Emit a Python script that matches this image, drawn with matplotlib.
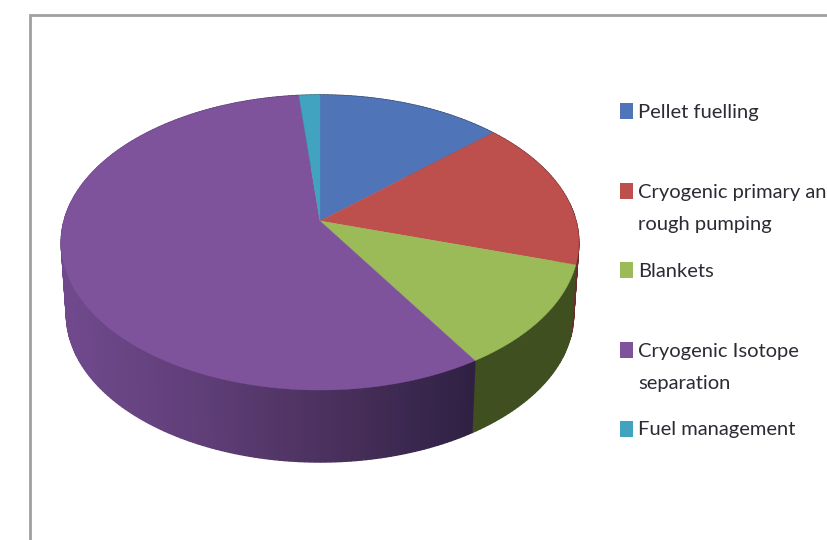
import matplotlib
matplotlib.use("Agg")
import matplotlib.pyplot as plt
import numpy as np

# share of each slice in percent, clockwise from the top
labels = ["Pellet fuelling", "Cryogenic primary and\nrough pumping", "Blankets",
          "Cryogenic Isotope\nseparation", "Fuel management"]
values = [13.3, 16.4, 11.4, 57.4, 1.5]
colors = ["#4f74b8", "#bd504d", "#9bbb59", "#7f539c", "#41a3bf"]

plt.rcParams["font.family"] = ["Lato", "DejaVu Sans"]

# pie geometry in pixels, the slight perspective puts the apex above the ellipse centre
CX, CY = 320, 221
A, B, K = 256, 144.4, 0.1457
DEPTH = 72


def edge(theta, scale=1.0, drop=0):
    # theta is clockwise from the top, in radians
    u = np.sin(theta)
    v = -np.cos(theta)
    w = 1 - K * v
    return CX + scale * A * u / w, CY + drop + B * v / w


def side_colour(x, i):
    if i == 3:
        return np.interp(x, [70, 200, 320, 470], [111, 96, 76, 48]) / 255, \
               np.interp(x, [70, 200, 320, 470], [73, 62, 50, 33]) / 255, \
               np.interp(x, [70, 200, 320, 470], [140, 120, 95, 68]) / 255
    return ["#2c4066", "#6b2d2b", "#3f4f20", "#4a3060", "#245c6c"][i]


fig = plt.figure(figsize=(8.27, 5.40), dpi=100)
ax = fig.add_axes([0, 0, 1, 1])
ax.set_xlim(0, 827)
ax.set_ylim(540, 0)
ax.axis("off")

# frame, runs off the right and bottom of the picture
ax.plot([30, 30, 827], [540, 15, 15], color="#a0a0a0", lw=2.0, solid_joinstyle="miter")

stops = np.radians(np.cumsum([0] + values) * 3.6)

# sides first, the top covers the part at the back
for i in range(len(values)):
    t = np.arange(stops[i], stops[i + 1], np.radians(1.0))
    t = np.append(t, stops[i + 1])
    for a, b in zip(t[:-1], t[1:]):
        x1, y1 = edge(np.array([a, b]))
        x2, y2 = edge(np.array([b, a]), 0.98, DEPTH)
        c = side_colour((x1[0] + x1[1]) / 2, i)
        ax.fill(np.r_[x1, x2], np.r_[y1, y2], color=c, lw=1.0)

for i in range(len(values)):
    t = np.linspace(stops[i], stops[i + 1], 200)
    x, y = edge(t)
    ax.fill(np.r_[CX, x], np.r_[CY, y], color=colors[i], lw=0.3)

# legend
box_y = [103, 183, 262, 342, 421]
text_y = [118, 198, 277, 357, 435]
for lab, col, by, ty in zip(labels, colors, box_y, text_y):
    ax.fill([620, 633, 633, 620], [by, by, by + 16, by + 16], color=col, lw=0)
    lines = lab.split("\n")
    for n, line in enumerate(lines):
        ax.text(638, ty + n * 32, line, fontsize=14.5, color="#2b2b33", va="baseline", ha="left")

fig.savefig("out.png", dpi=100)
